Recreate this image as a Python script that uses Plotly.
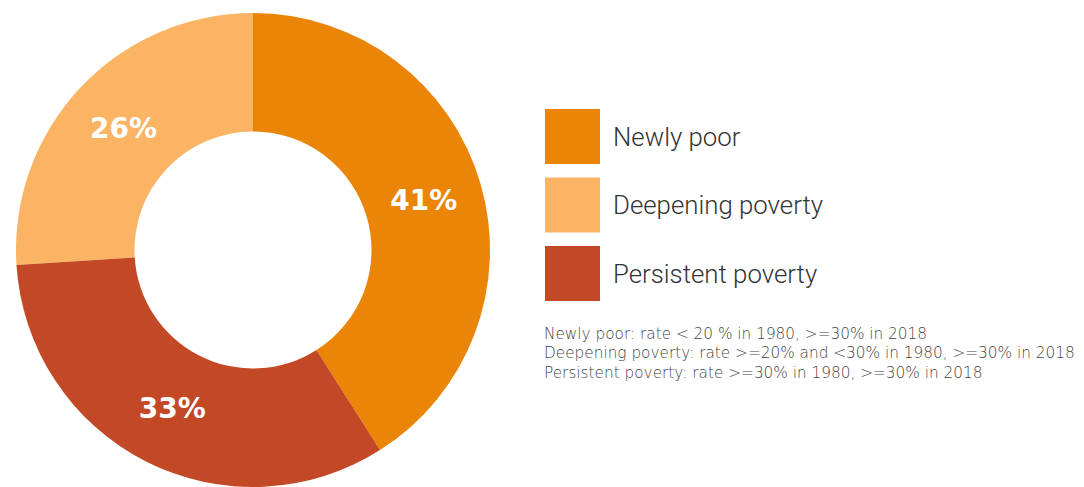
import plotly.graph_objects as go

# Poverty trajectory shares (percent)
categories = ["Newly poor", "Deepening poverty", "Persistent poverty"]
shares = [41, 26, 33]
colors = ["#EB8508", "#FAB464", "#C34826"]
notes = [
    "Newly poor: rate < 20 % in 1980, >=30% in 2018",
    "Deepening poverty: rate >=20% and <30% in 1980, >=30% in 2018",
    "Persistent poverty: rate >=30% in 1980, >=30% in 2018",
]

W, H = 1084, 487

fig = go.Figure()

# Donut: first slice ends at 12 o'clock, later slices continue counterclockwise
fig.add_trace(go.Pie(
    labels=categories,
    values=shares,
    hole=0.5,
    sort=False,
    direction="counterclockwise",
    rotation=0,
    marker=dict(colors=colors, line=dict(width=0)),
    texttemplate="%{value}%",
    textposition="inside",
    insidetextorientation="horizontal",
    insidetextfont=dict(family="DejaVu Sans", size=28, color="white", weight="bold"),
    domain=dict(x=[16 / W, 490 / W], y=[0, 1 - 13 / H]),
    showlegend=False,
    hoverinfo="label+percent",
))

# Hand-built legend with large colour swatches
shapes = []
annotations = []
sw_x0, sw_size, sw_top, sw_step = 545, 55, 109, 68.5
for i, (name, col) in enumerate(zip(categories, colors)):
    y0 = sw_top + i * sw_step
    shapes.append(dict(
        type="rect", xref="paper", yref="paper",
        x0=sw_x0 / W, x1=(sw_x0 + sw_size) / W,
        y0=1 - (y0 + sw_size) / H, y1=1 - y0 / H,
        fillcolor=col, line=dict(width=0), layer="above",
    ))
    annotations.append(dict(
        xref="paper", yref="paper",
        x=611 / W, y=1 - (y0 + sw_size / 2) / H,
        xanchor="left", yanchor="middle",
        text=name, showarrow=False,
        font=dict(family="Roboto", size=25.8, color="#333333", weight=300),
    ))

# Category definitions, one line each
for j, line in enumerate(notes):
    annotations.append(dict(
        xref="paper", yref="paper",
        x=542 / W, y=1 - (333.5 + j * 19.5) / H,
        xanchor="left", yanchor="middle", align="left",
        text=line, showarrow=False,
        font=dict(family="DejaVu Sans", size=15.3, color="#444444", weight=200),
    ))

fig.update_layout(
    width=W, height=H,
    margin=dict(l=0, r=0, t=0, b=0),
    paper_bgcolor="white",
    plot_bgcolor="white",
    shapes=shapes,
    annotations=annotations,
)

fig.write_html("out.html")
